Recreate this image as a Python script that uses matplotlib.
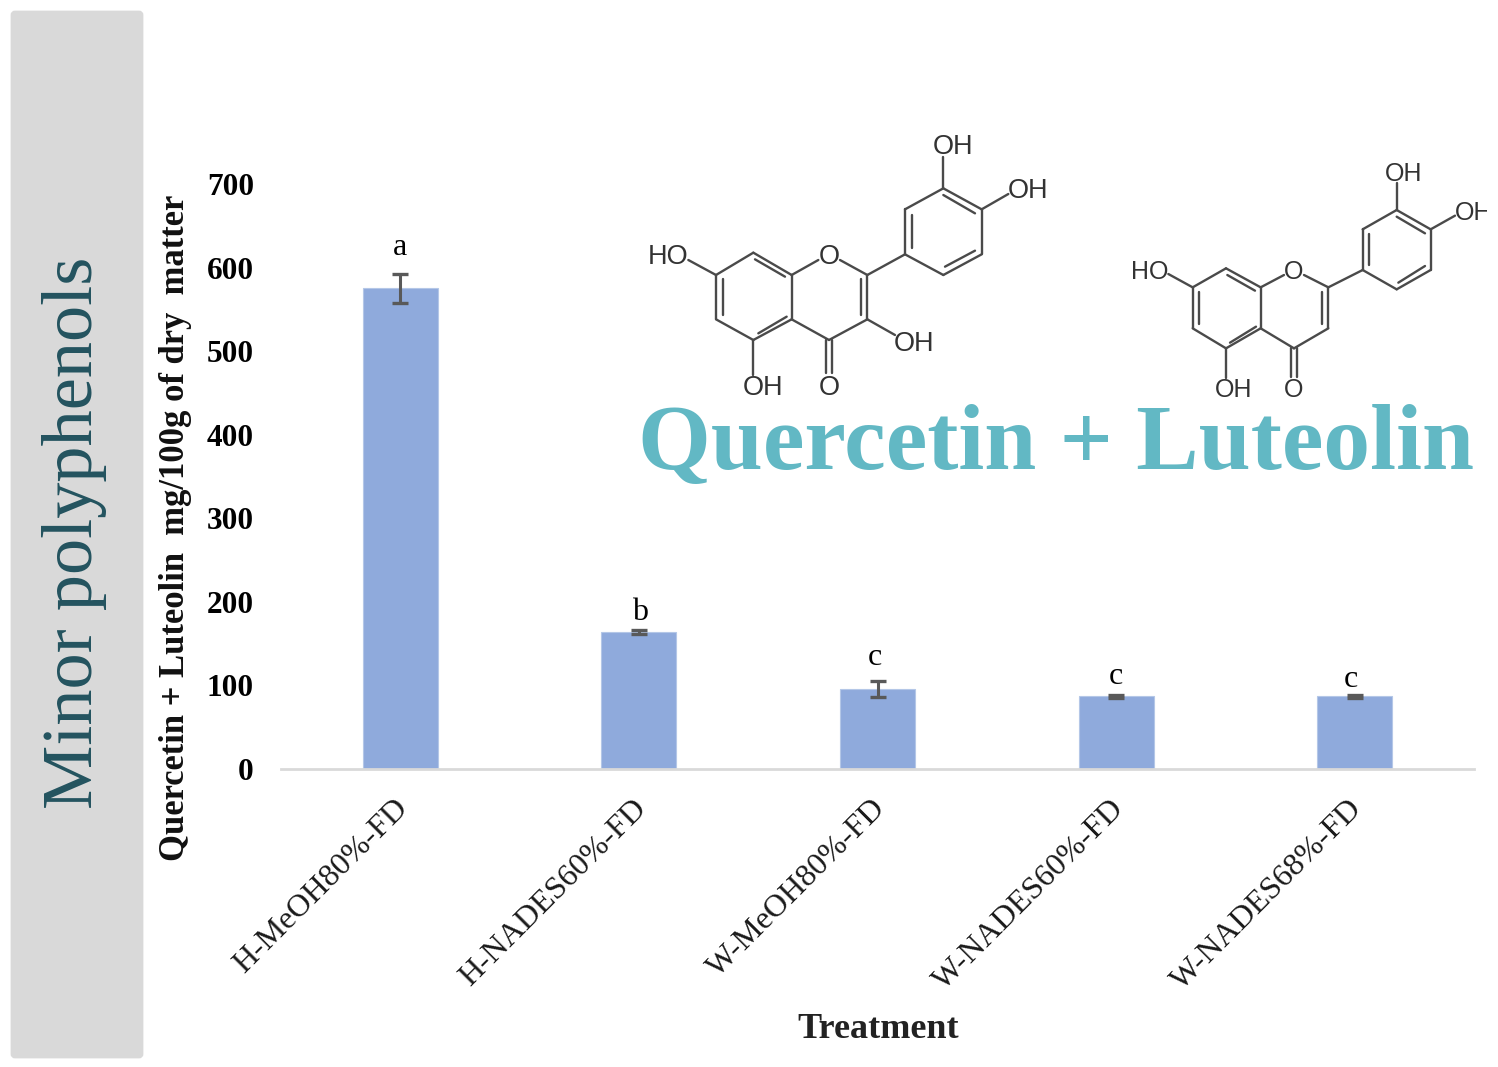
import matplotlib
matplotlib.use("Agg")
import matplotlib.pyplot as plt
from matplotlib.patches import FancyBboxPatch, Rectangle
from matplotlib.transforms import ScaledTranslation

W, H = 1498, 1067
SERIF = "Liberation Serif"
SANS = "Liberation Sans"

categories = ["H-MeOH80%-FD", "H-NADES60%-FD", "W-MeOH80%-FD", "W-NADES60%-FD", "W-NADES68%-FD"]
values = [575, 164, 96, 87, 87]
errors = [17, 2, 9.5, 2, 2]
letters = ["a", "b", "c", "c", "c"]
letter_heights = [615, 178, 125, 102, 98]
letter_shift = [0, 0.005, -0.01, 0, -0.015]
yticks = [0, 100, 200, 300, 400, 500, 600, 700]

fig = plt.figure(figsize=(W / 100, H / 100), dpi=100, facecolor="white")

# main chart axes: x span 281..1474 px, y=0 at 769 px, y=700 at 184 px
ax = fig.add_axes([281 / W, 1 - 769 / H, (1474 - 281) / W, (769 - 184) / H])
ax.set_facecolor("none")
xs = list(range(len(categories)))
ax.bar(xs, values, width=0.314, color="#8FAADC", edgecolor="#B4C7E7", linewidth=0.8, zorder=2)
ax.errorbar(xs, values, yerr=errors, fmt="none", ecolor="#595959", elinewidth=2.2,
            capsize=5.8, capthick=2.4, zorder=3)
ax.set_xlim(-0.5, len(categories) - 0.5)
ax.set_ylim(0, 700)
ax.set_yticks(yticks)
ax.set_yticklabels([str(t) for t in yticks], fontfamily=SERIF, fontweight="bold", fontsize=22.5)
ax.set_xticks(xs)
ax.set_xticklabels(categories, rotation=45, ha="right", va="top", rotation_mode="anchor",
                   fontfamily=SERIF, fontsize=23, color="#1a1a1a")
ax.tick_params(axis="y", length=0, pad=19.5)
ax.tick_params(axis="x", length=0, pad=18)
shift = ScaledTranslation(-7 / 100, 0, fig.dpi_scale_trans)
for lab in ax.get_xticklabels():
    lab.set_transform(lab.get_transform() + shift)
for s in ["top", "left", "right"]:
    ax.spines[s].set_visible(False)
ax.spines["bottom"].set_color("#D9D9D9")
ax.spines["bottom"].set_linewidth(2)
for x, dx, h, l in zip(xs, letter_shift, letter_heights, letters):
    ax.text(x + dx, h, l, ha="center", va="baseline", fontfamily=SERIF, fontsize=23, color="black", zorder=4)

# overlay in pixel coordinates for panel, titles and structural formulas
ov = fig.add_axes([0, 0, 1, 1], zorder=5)
ov.set_xlim(0, W)
ov.set_ylim(H, 0)
ov.axis("off")
ov.patch.set_alpha(0)

ov.add_patch(FancyBboxPatch((12, 12), 130, 1045, boxstyle="round,pad=0,rounding_size=3",
                            facecolor="#D9D9D9", edgecolor="#D9D9D9", linewidth=2))
ov.text(75, 533, "Minor polyphenols", rotation=90, ha="center", va="center",
        fontfamily=SERIF, fontsize=52, color="#23535F")
ov.text(176, 528, "Quercetin + Luteolin  mg/100g of dry  matter", rotation=90, ha="center", va="center",
        fontfamily=SERIF, fontweight="bold", fontsize=24.9, color="#111111")
ov.text(878, 1030, "Treatment", ha="center", va="center",
        fontfamily=SERIF, fontweight="bold", fontsize=26, color="#222222")
ov.text(1056, 446, "Quercetin + Luteolin", ha="center", va="center",
        fontfamily=SERIF, fontweight="bold", fontsize=67.3, color="#62B8C4")


def mol(ox, oy, bonds, labels, size, clip=None):
    def p(v):
        return ox + v[0] / 3, oy + v[1] / 3
    for a, b in bonds:
        (x0, y0), (x1, y1) = p(a), p(b)
        ov.plot([x0, x1], [y0, y1], color="#4a4a4a", lw=1.7, solid_capstyle="round")
    for (x, y), s in labels:
        t = ov.text(*p((x, y + 6)), s, ha="center", va="center", fontfamily=SANS, fontsize=size, color="#333333")
        if clip is not None:
            t.set_clip_path(clip)
            t.set_clip_on(True)


q_bonds = [((258, 465), (370, 398)), ((370, 398), (485, 465)), ((485, 465), (485, 598)),
           ((485, 598), (370, 660)), ((370, 660), (258, 598)), ((258, 598), (258, 465)),
           ((278, 478), (278, 585)), ((375, 418), (465, 470)), ((385, 640), (470, 590)),
           ((485, 465), (565, 420)), ((630, 420), (712, 465)), ((712, 465), (712, 598)),
           ((712, 598), (597, 660)), ((597, 660), (485, 598)), ((692, 478), (692, 585)),
           ((712, 465), (825, 403)), ((825, 403), (825, 268)), ((825, 268), (940, 205)),
           ((940, 205), (1055, 268)), ((1055, 268), (1055, 403)), ((1055, 403), (940, 465)),
           ((940, 465), (825, 403)), ((845, 285), (845, 385)), ((940, 225), (1035, 280)),
           ((945, 440), (1035, 392)), ((258, 465), (175, 420)), ((940, 205), (940, 110)),
           ((1055, 268), (1135, 222)), ((712, 598), (795, 645)), ((370, 660), (370, 765)),
           ((588, 660), (588, 760)), ((607, 660), (607, 760))]
q_labels = [((115, 405), "HO"), ((597, 405), "O"), ((968, 75), "OH"), ((1195, 207), "OH"),
            ((852, 665), "OH"), ((398, 797), "OH"), ((597, 797), "O")]
mol(630, 120, q_bonds, q_labels, 19.5)

l_bonds = [((218, 412), (318, 355)), ((318, 355), (422, 412)), ((422, 412), (422, 535)),
           ((422, 535), (318, 595)), ((318, 595), (218, 535)), ((218, 535), (218, 412)),
           ((236, 425), (236, 522)), ((322, 375), (405, 422)), ((330, 578), (408, 530)),
           ((422, 412), (492, 375)), ((552, 375), (625, 412)), ((625, 412), (625, 535)),
           ((625, 535), (522, 595)), ((522, 595), (422, 535)), ((607, 425), (607, 522)),
           ((625, 412), (728, 360)), ((728, 360), (728, 238)), ((728, 238), (830, 180)),
           ((830, 180), (932, 238)), ((932, 238), (932, 360)), ((932, 360), (830, 418)),
           ((830, 418), (728, 360)), ((746, 252), (746, 345)), ((830, 200), (915, 250)),
           ((835, 398), (915, 348)), ((218, 412), (145, 372)), ((830, 180), (830, 100)),
           ((932, 238), (1005, 197)), ((318, 595), (318, 685)), ((513, 595), (513, 680)),
           ((531, 595), (531, 680))]
l_labels = [((90, 360), "HO"), ((522, 360), "O"), ((852, 65), "OH"), ((1060, 183), "OH"),
            ((342, 713), "OH"), ((522, 713), "O")]
clip = Rectangle((1100, 140), 387, 280, transform=ov.transData)
mol(1120, 150, l_bonds, l_labels, 18, clip=clip)

fig.savefig("out.png", dpi=100, facecolor="white")
